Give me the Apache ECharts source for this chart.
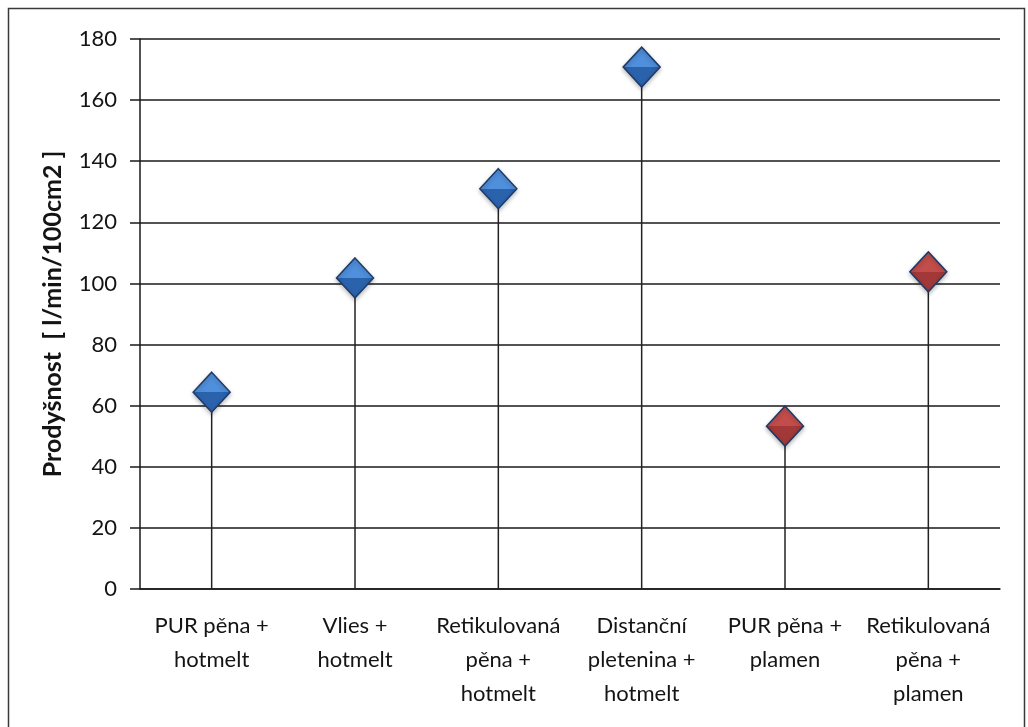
<!DOCTYPE html>
<html>
<head>
<meta charset="utf-8">
<script src="https://cdn.jsdelivr.net/npm/echarts@6/dist/echarts.min.js"></script>
<style>
  html, body { margin: 0; padding: 0; background: #ffffff; }
  #chart { width: 1028px; height: 727px; }
</style>
</head>
<body>
<div id="chart"></div>
<script>
// Air permeability of laminated textile layers
const categories = [
  'PUR pěna +\nhotmelt',
  'Vlies +\nhotmelt',
  'Retikulovaná\npěna +\nhotmelt',
  'Distanční\npletenina +\nhotmelt',
  'PUR pěna +\nplamen',
  'Retikulovaná\npěna +\nplamen'
];
const permeability = [64.4, 101.8, 131, 170.8, 53.3, 103.8];
const bonding = ['hotmelt', 'hotmelt', 'hotmelt', 'hotmelt', 'plamen', 'plamen'];
const yTicks = [0, 20, 40, 60, 80, 100, 120, 140, 160, 180];

const FONT = 'Lato, "Open Sans", sans-serif';

function diamondStyle(kind) {
  const top = kind === 'hotmelt' ? '#4f8fdc' : '#c24d4b';
  const bottom = kind === 'hotmelt' ? '#2a62ac' : '#a23837';
  return {
    opacity: 1,
    color: new echarts.graphic.LinearGradient(0, 0, 0, 1, [
      { offset: 0, color: top },
      { offset: 0.5, color: top },
      { offset: 0.5, color: bottom },
      { offset: 1, color: bottom }
    ]),
    borderColor: '#1e3a66',
    borderWidth: 1.5,
    shadowColor: 'rgba(0,0,0,0.25)',
    shadowBlur: 4,
    shadowOffsetY: 2
  };
}

const chart = echarts.init(document.getElementById('chart'), null, { renderer: 'canvas' });

chart.setOption({
  animation: false,
  backgroundColor: '#ffffff',
  graphic: [{
    type: 'rect',
    shape: { x: 8.5, y: 8.5, width: 1016, height: 740 },
    style: { fill: 'none', stroke: '#3a3a3a', lineWidth: 1.5 },
    silent: true
  }],
  grid: { left: 140, right: 28, top: 39, bottom: 138 },
  xAxis: {
    type: 'category',
    data: categories,
    boundaryGap: true,
    axisLine: { show: true, lineStyle: { color: '#1a1a1a', width: 1.5 } },
    axisTick: { show: false },
    axisLabel: {
      interval: 0,
      margin: 20,
      fontFamily: FONT,
      fontSize: 22,
      lineHeight: 34,
      color: '#141414',
      align: 'center'
    },
    splitLine: { show: false }
  },
  yAxis: {
    type: 'value',
    min: yTicks[0],
    max: yTicks[yTicks.length - 1],
    interval: yTicks[1] - yTicks[0],
    name: 'Prodyšnost  [ l/min/100cm2 ]',
    nameLocation: 'middle',
    nameGap: 75,
    nameRotate: 90,
    nameTextStyle: {
      fontFamily: FONT,
      fontSize: 25,
      fontWeight: 'bold',
      color: '#141414'
    },
    axisLine: { show: true, lineStyle: { color: '#1a1a1a', width: 1.5 } },
    axisTick: { show: true, inside: false, length: 10, lineStyle: { color: '#1a1a1a', width: 1.5 } },
    axisLabel: {
      margin: 23,
      fontFamily: FONT,
      fontSize: 22,
      color: '#141414'
    },
    splitLine: { show: true, lineStyle: { color: '#1a1a1a', width: 1.5 } }
  },
  series: [
    {
      // vertical drop lines from each point to the axis
      name: 'stem',
      type: 'bar',
      data: permeability,
      barWidth: 1.5,
      barGap: '-100%',
      itemStyle: { color: '#222222' },
      silent: true,
      z: 2
    },
    {
      name: 'Prodyšnost',
      type: 'scatter',
      symbol: 'diamond',
      symbolSize: [37, 40],
      data: permeability.map((v, i) => ({ value: v, itemStyle: diamondStyle(bonding[i]) })),
      z: 3
    }
  ]
});
</script>
</body>
</html>
